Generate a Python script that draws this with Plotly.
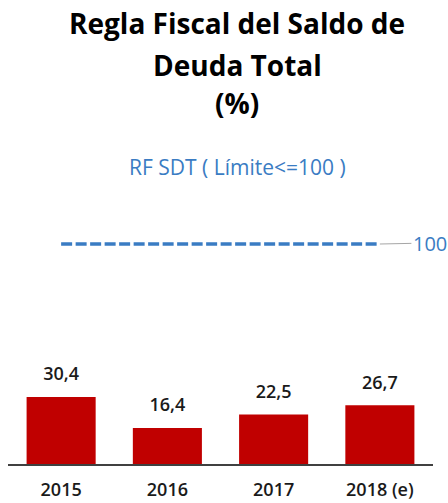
import plotly.graph_objects as go

categories = ["2015", "2016", "2017", "2018 (e)"]
saldo_deuda = [30.4, 16.4, 22.5, 26.7]
limite = [100, 100, 100, 100]
limite_label = "100"
title_lines = ["Regla Fiscal del Saldo de", "Deuda Total", "(%)"]
legend_text = "RF SDT ( Límite&lt;=100 )"

FONT = "Open Sans"
BLUE = "#3A7CC3"
RED = "#C00000"

fig = go.Figure()
fig.add_trace(go.Bar(x=categories, y=saldo_deuda, marker=dict(color=RED, line=dict(width=0)),
                     hoverinfo="skip", showlegend=False))
fig.add_trace(go.Scatter(x=categories, y=saldo_deuda, mode="markers+text",
                         text=[f"{v:.1f}".replace(".", ",") for v in saldo_deuda],
                         textposition="top center",
                         marker=dict(size=18, opacity=0),
                         textfont=dict(family=FONT, size=18, color="#1a1a1a", weight=600),
                         hoverinfo="skip", showlegend=False))
fig.add_trace(go.Scatter(x=categories, y=limite, mode="lines",
                         line=dict(color=BLUE, width=3.3, dash="11px,3.5px"),
                         hoverinfo="skip", showlegend=False))

L, R = 8, 433      # pixel columns of plot area
H0, H1 = 464, 178  # pixel rows of y=0 and plot top
def py(p):
    return (H0 - p) / (H0 - H1)
def px(p):
    return (p - L) / (R - L)

title_y = [23, 65, 103]
for line, yy in zip(title_lines, title_y):
    fig.add_annotation(text=f"<b>{line}</b>", xref="paper", yref="paper",
                       x=px(237), y=py(yy), xanchor="center", yanchor="middle",
                       showarrow=False, font=dict(family=FONT, size=28, color="#000000"))

fig.add_annotation(text=legend_text, xref="paper", yref="paper",
                   x=px(237), y=py(167), xanchor="center", yanchor="middle",
                   showarrow=False, font=dict(family=FONT, size=21, color=BLUE))

fig.add_annotation(text=limite_label, x=categories[-1], y=limite[-1],
                   xref="x", yref="y", ax=50, ay=-1, showarrow=True, arrowhead=0,
                   arrowwidth=1, arrowcolor="#A6A6A6", standoff=0,
                   font=dict(family=FONT, size=20, color=BLUE))

fig.update_layout(
    width=448, height=503,
    margin=dict(l=L, r=448 - R, t=H1, b=503 - H0, pad=0, autoexpand=False),
    paper_bgcolor="white", plot_bgcolor="white",
    bargap=0.35,
    separators=",.",
    xaxis=dict(range=[-0.5, 3.5], showgrid=False, showline=True, linecolor="#404040",
               linewidth=1.5, ticks="", ticklabelstandoff=9, automargin=False,
               tickfont=dict(family=FONT, size=18, color="#1a1a1a", weight=600),
               fixedrange=True),
    yaxis=dict(range=[0, 130], visible=False, fixedrange=True, automargin=False),
)

fig.write_html("out.html", config={"displayModeBar": False, "staticPlot": True},
               post_script="document.body.style.margin='0';document.body.style.overflow='hidden';")
